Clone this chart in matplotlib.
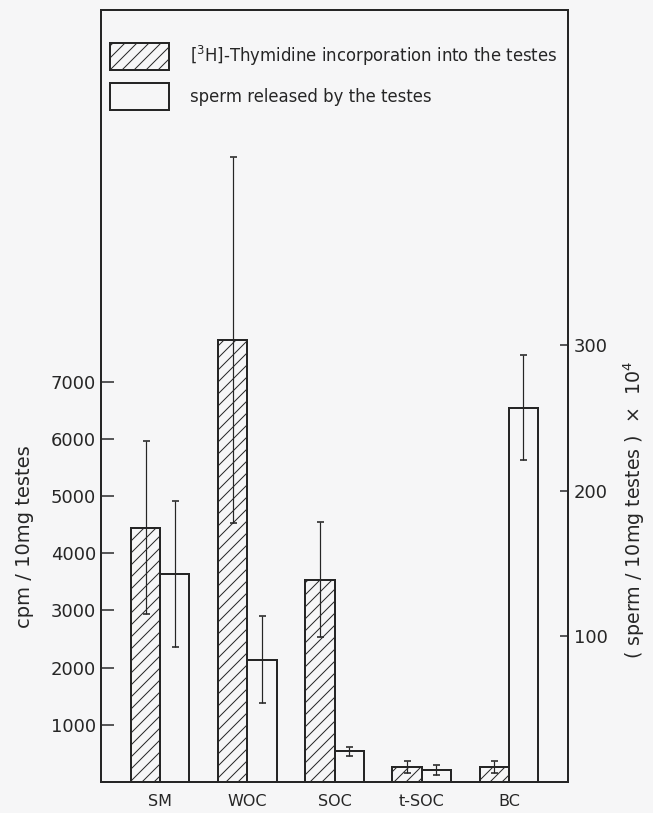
import matplotlib
matplotlib.use("Agg")
import matplotlib.pyplot as plt
from matplotlib.patches import Patch
import numpy as np

# values
categories = ["SM", "WOC", "SOC", "t-SOC", "BC"]
thymidine = [4450, 7730, 3540, 270, 270]          # cpm / 10mg testes
thymidine_err = [1520, 3200, 1000, 105, 105]
sperm = [143, 84, 21, 8, 257]                     # (sperm / 10mg testes) x 10^4
sperm_err = [50, 30, 3, 3.5, 36]

ink = "#262626"
bg = "#f6f6f7"

plt.rcParams["font.family"] = ["DejaVu Sans"]
plt.rcParams["hatch.linewidth"] = 1.0

fig = plt.figure(figsize=(653 / 72, 813 / 72), dpi=72, facecolor=bg)
ax = fig.add_axes([101 / 653, 31 / 813, 467 / 653, 772 / 813])
ax.set_facecolor(bg)
ax2 = ax.twinx()

x = np.arange(len(categories))
w = 0.335

ax.bar(x - w / 2, thymidine, w, facecolor="none", edgecolor=ink,
       hatch="//", linewidth=2)
ax.errorbar(x - w / 2, thymidine, yerr=thymidine_err, fmt="none",
            ecolor=ink, elinewidth=1.2, capsize=3.5, capthick=1.6)

ax2.bar(x + w / 2, sperm, w, facecolor="none", edgecolor=ink, linewidth=2)
ax2.errorbar(x + w / 2, sperm, yerr=sperm_err, fmt="none",
             ecolor=ink, elinewidth=1.2, capsize=3.5, capthick=1.6)

ax.set_xlim(-0.678, 4.678)
ax.set_ylim(0, 13500)
ax2.set_ylim(0, 530)

ax.set_yticks([1000, 2000, 3000, 4000, 5000, 6000, 7000])
ax2.set_yticks([100, 200, 300])
ax.set_xticks(x)
ax.set_xticklabels(categories)

ax.tick_params(axis="x", length=0, pad=12, labelsize=16, colors=ink)
ax.tick_params(axis="y", direction="in", length=13, width=1.5, pad=5,
               labelsize=18, colors=ink)
ax2.tick_params(axis="y", direction="in", length=8, width=1.5, pad=6,
                labelsize=18, colors=ink)

for a in (ax, ax2):
    for s in a.spines.values():
        s.set_linewidth(2)
        s.set_color(ink)

fig.text(25 / 653, 1 - 537 / 813, "cpm / 10mg testes", rotation=90,
         ha="center", va="center", fontsize=19.5, color=ink)
fig.text(634 / 653, 1 - 510 / 813, "( sperm / 10mg testes )  \u00d7  10$^4$",
         rotation=90, ha="center", va="center", fontsize=19, color=ink)

handles = [Patch(facecolor="none", edgecolor=ink, hatch="//", linewidth=2),
           Patch(facecolor="none", edgecolor=ink, linewidth=2)]
labels = ["[$^3$H]-Thymidine incorporation into the testes",
          "sperm released by the testes"]
fs = 16.5
fig.legend(handles, labels, loc="upper left",
           bbox_to_anchor=(110 / 653, 1 - 43 / 813),
           bbox_transform=fig.transFigure, frameon=False, borderpad=0,
           borderaxespad=0, fontsize=fs, handlelength=59 / fs,
           handleheight=2.23 * 16 / fs, handletextpad=21 / fs,
           labelspacing=13 / fs, labelcolor=ink)

fig.savefig("out.png", dpi=72, facecolor=bg)
